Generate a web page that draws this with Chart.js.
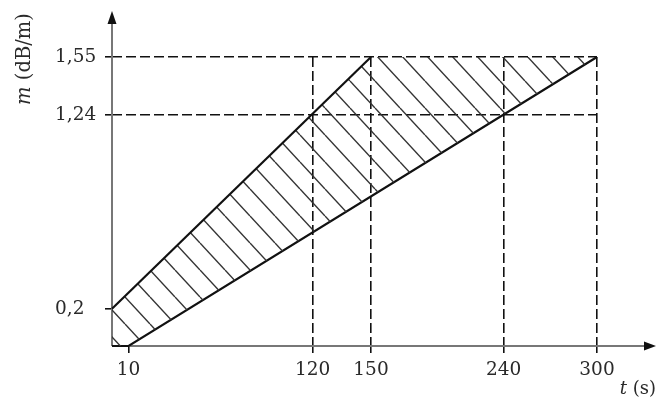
<!DOCTYPE html>
<html>
<head>
<meta charset="utf-8">
<script src="https://cdn.jsdelivr.net/npm/chart.js@4/dist/chart.umd.min.js"></script>
<style>
  html, body { margin: 0; padding: 0; background: #fff; }
  canvas { display: block; }
</style>
</head>
<body>
<canvas id="chart" width="658" height="398"></canvas>
<script>
// Envelope of the attenuation rate m (dB/m) over time t (s)
const upperT = [0, 150, 300];
const upperM = [0.2, 1.55, 1.55];
const lowerT = [0, 10, 300];
const lowerM = [0, 0, 1.55];

// Marked values on each axis
const tTicks = [10, 120, 150, 240, 300];
const tTickLabels = ['10', '120', '150', '240', '300'];
const mTicks = [0.2, 1.24, 1.55];
const mTickLabels = ['0,2', '1,24', '1,55'];

// The time axis is schematic (not to scale): each marked time sits at a set fraction of the axis length
const tAxisStops = [[0, 0], [10, 0.0342], [120, 0.4136], [150, 0.534], [240, 0.8074], [300, 1]];

class SchematicScale extends Chart.LinearScale {
  getPixelForValue(value) {
    if (value === null || value === undefined || isNaN(value)) return NaN;
    const s = tAxisStops;
    let i = 1;
    while (i < s.length - 1 && value > s[i][0]) i++;
    const [v0, f0] = s[i - 1];
    const [v1, f1] = s[i];
    return this.getPixelForDecimal(f0 + (value - v0) / (v1 - v0) * (f1 - f0));
  }
  getValueForPixel(pixel) {
    const f = this.getDecimalForPixel(pixel);
    const s = tAxisStops;
    let i = 1;
    while (i < s.length - 1 && f > s[i][1]) i++;
    const [v0, f0] = s[i - 1];
    const [v1, f1] = s[i];
    return v0 + (f - f0) / (f1 - f0) * (v1 - v0);
  }
}
SchematicScale.id = 'schematic';
SchematicScale.defaults = {};
Chart.register(SchematicScale);

// Diagonal hatching for the band between the two bounds
function makeHatch() {
  const w = 25, h = 27;
  const c = document.createElement('canvas');
  c.width = w; c.height = h;
  const g = c.getContext('2d');
  g.strokeStyle = '#333';
  g.lineWidth = 1.4;
  for (const k of [-1, 0, 1]) {
    g.beginPath();
    g.moveTo(k * w, 0);
    g.lineTo(k * w + w, h);
    g.stroke();
  }
  return g.createPattern(c, 'repeat');
}

const SERIF = '"DejaVu Serif", "Liberation Serif", serif';
const INK = '#111';
const TEXT = '#2a2a2a';
const CLEAR = 'rgba(0,0,0,0)';

// Axis lines with arrowheads, plus the axis titles
const arrowAxes = {
  id: 'arrowAxes',
  beforeDatasetsDraw(chart) {
    const { ctx, scales: { x, y } } = chart;
    const ox = x.getPixelForValue(0);
    const oy = y.getPixelForValue(0);
    const xTip = chart.width - 2;
    const yTip = 11;
    ctx.save();
    ctx.strokeStyle = '#777';
    ctx.lineWidth = 2;
    ctx.beginPath();
    ctx.moveTo(ox, oy);
    ctx.lineTo(xTip - 8, oy);
    ctx.moveTo(ox, oy);
    ctx.lineTo(ox, yTip + 8);
    ctx.stroke();
    ctx.fillStyle = INK;
    ctx.beginPath();
    ctx.moveTo(xTip, oy);
    ctx.lineTo(xTip - 12, oy - 4.5);
    ctx.lineTo(xTip - 12, oy + 4.5);
    ctx.closePath();
    ctx.fill();
    ctx.beginPath();
    ctx.moveTo(ox, yTip);
    ctx.lineTo(ox - 4.5, yTip + 13);
    ctx.lineTo(ox + 4.5, yTip + 13);
    ctx.closePath();
    ctx.fill();
    ctx.restore();
  },
  afterDraw(chart) {
    const { ctx } = chart;
    ctx.save();
    ctx.fillStyle = TEXT;
    ctx.textBaseline = 'middle';
    ctx.textAlign = 'left';

    // m (dB/m), reading upwards
    const italicY = 'italic 19.5px ' + SERIF;
    const uprightY = '19.5px ' + SERIF;
    ctx.save();
    ctx.translate(25, 59);
    ctx.rotate(-Math.PI / 2);
    ctx.font = italicY;
    const w1 = ctx.measureText('m').width;
    ctx.font = uprightY;
    const w2 = ctx.measureText(' (dB/m)').width;
    const sx = -(w1 + w2) / 2;
    ctx.font = italicY;
    ctx.fillText('m', sx, 0);
    ctx.font = uprightY;
    ctx.fillText(' (dB/m)', sx + w1, 0);
    ctx.restore();

    // t (s), ending just inside the right edge
    const italicX = 'italic 18px ' + SERIF;
    const uprightX = '18px ' + SERIF;
    ctx.font = italicX;
    const wt = ctx.measureText('t').width;
    ctx.font = uprightX;
    const ws = ctx.measureText(' (s)').width;
    const tx = chart.width - 2 - wt - ws;
    ctx.font = italicX;
    ctx.fillText('t', tx, 389);
    ctx.font = uprightX;
    ctx.fillText(' (s)', tx + wt, 389);
    ctx.restore();
  }
};

const toPoints = (xs, ys) => xs.map((v, i) => ({ x: v, y: ys[i] }));

new Chart(document.getElementById('chart'), {
  type: 'line',
  data: {
    datasets: [
      {
        label: 'upper',
        data: toPoints(upperT, upperM),
        borderColor: INK,
        borderWidth: 2.2,
        pointRadius: 0,
        tension: 0,
        clip: false,
        fill: '+1',
        backgroundColor: makeHatch(),
        segment: {
          borderColor: c => (c.p0.parsed.x >= 150 ? CLEAR : INK)
        }
      },
      {
        label: 'lower',
        data: toPoints(lowerT, lowerM),
        borderColor: INK,
        borderWidth: 2.2,
        pointRadius: 0,
        tension: 0,
        clip: false,
        fill: false
      }
    ]
  },
  options: {
    responsive: false,
    animation: false,
    devicePixelRatio: 1,
    layout: { padding: { left: 55, top: 57, right: 61, bottom: 0 } },
    plugins: { legend: { display: false }, tooltip: { enabled: false } },
    scales: {
      x: {
        type: 'schematic',
        min: 0,
        max: 300,
        afterBuildTicks: s => { s.ticks = tTicks.map(v => ({ value: v })); },
        afterFit: s => { s.height = 52; },
        grid: {
          color: c => (c.tick && c.tick.value === 10 ? CLEAR : INK),
          tickColor: INK,
          lineWidth: 1.6,
          tickLength: 7,
          tickBorderDash: []
        },
        border: { display: false, dash: [10, 4] },
        ticks: {
          autoSkip: false,
          maxRotation: 0,
          padding: 6,
          color: TEXT,
          font: { family: SERIF, size: 18.5 },
          callback: (v, i) => tTickLabels[i]
        }
      },
      y: {
        type: 'linear',
        min: 0,
        max: 1.55,
        afterBuildTicks: s => { s.ticks = mTicks.map(v => ({ value: v })); },
        afterFit: s => { s.width = 57; },
        grid: {
          color: c => (c.tick && c.tick.value === 0.2 ? CLEAR : INK),
          tickColor: INK,
          lineWidth: 1.6,
          tickLength: 7,
          tickBorderDash: []
        },
        border: { display: false, dash: [10, 4] },
        ticks: {
          autoSkip: false,
          crossAlign: 'far',
          color: TEXT,
          font: { family: SERIF, size: 18.5 },
          callback: (v, i) => mTickLabels[i]
        }
      }
    }
  },
  plugins: [arrowAxes]
});
</script>
</body>
</html>
